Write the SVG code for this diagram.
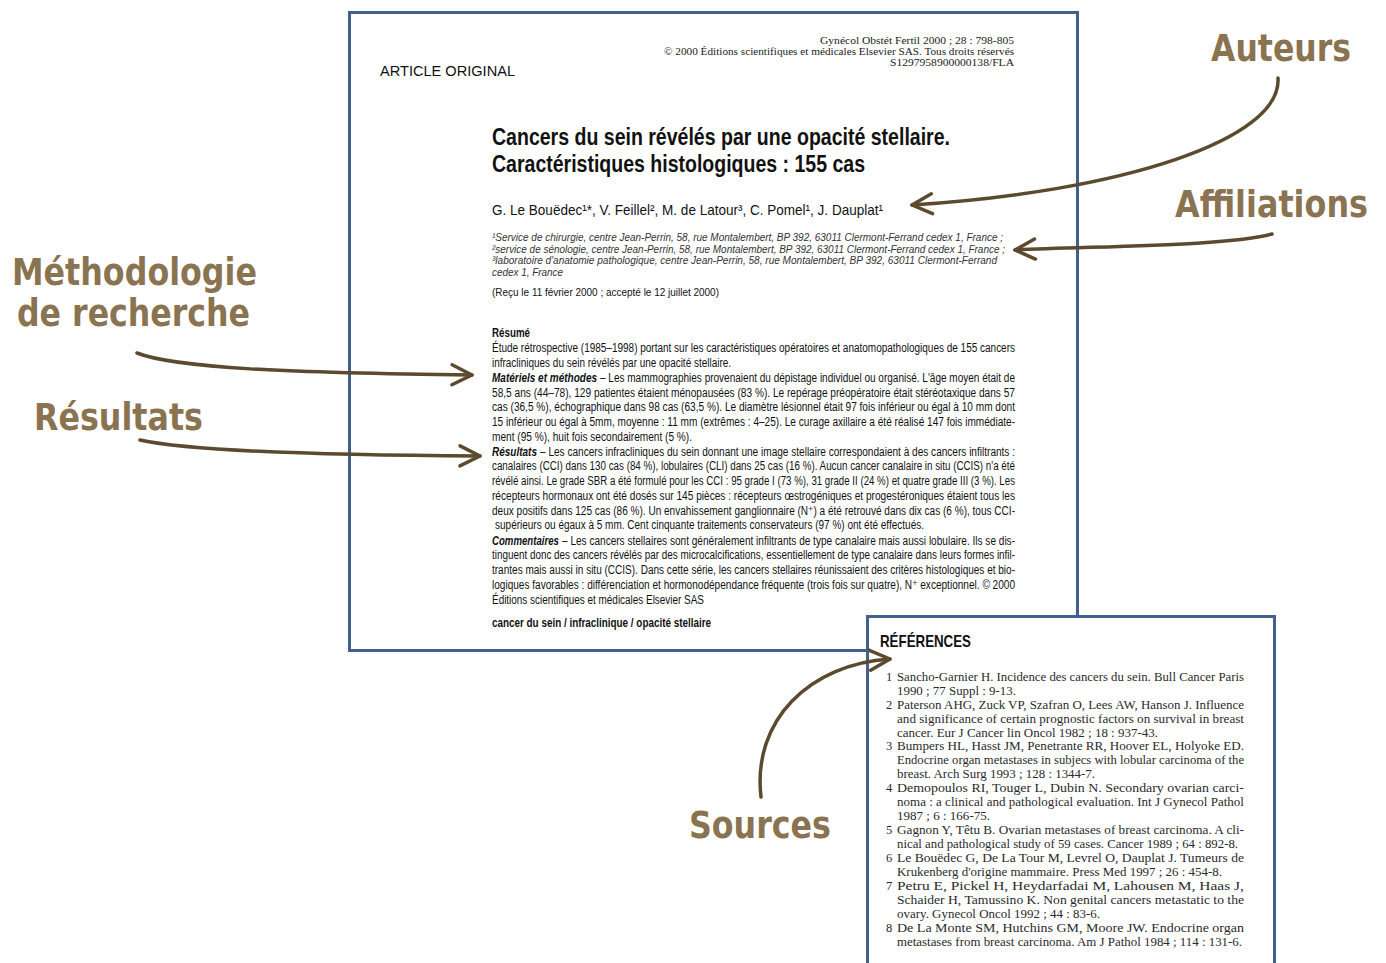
<svg xmlns="http://www.w3.org/2000/svg" width="1386" height="963" viewBox="0 0 1386 963">
<style>
.lbl{font-family:"DejaVu Sans","Liberation Sans",sans-serif;font-weight:bold;font-size:37px;fill:#8a7350}
.box{fill:#fff;stroke:#41608a;stroke-width:3}
.arr{fill:none;stroke:#5c4a2e;stroke-width:3.5;stroke-linecap:round}
.hdr{font-family:"Liberation Serif",serif;font-size:11px;fill:#222}
.sans{font-family:"Liberation Sans",Arial,sans-serif;fill:#111}
.cond{font-family:"Liberation Sans Narrow","Liberation Sans","DejaVu Sans",Arial,sans-serif;fill:#111}
.title{font-size:23px;font-weight:bold}
.auth{font-size:15px}
.aff{font-size:10.5px;font-style:italic;fill:#333}
.ab{font-size:12px}
.b{font-weight:bold}
.bi{font-weight:bold;font-style:italic}
.ref{font-family:"Liberation Serif",serif;font-size:12.5px;fill:#2a2a2a}
</style>
<defs>
<marker id="ah" markerUnits="userSpaceOnUse" markerWidth="40" markerHeight="30" viewBox="-30 -15 40 30" refX="0" refY="0" orient="auto">
<path d="M-20,-10 L0,0 L-20,10" fill="none" stroke="#5c4a2e" stroke-width="3.5" stroke-linecap="round" stroke-linejoin="round"/>
</marker>
</defs>
<rect width="1386" height="963" fill="#fff"/>

<g id="article">
<rect class="box" x="349.5" y="12.5" width="728" height="638"/>
<text class="hdr" x="820" y="44" textLength="194" lengthAdjust="spacingAndGlyphs">Gynécol Obstét Fertil 2000 ; 28 : 798-805</text>
<text class="hdr" x="664" y="55" textLength="350" lengthAdjust="spacingAndGlyphs">©  2000 Éditions scientifiques et médicales Elsevier SAS. Tous droits réservés</text>
<text class="hdr" x="890" y="66" textLength="124" lengthAdjust="spacingAndGlyphs">S1297958900000138/FLA</text>
<text class="sans" x="380" y="76" font-size="14" textLength="135" lengthAdjust="spacingAndGlyphs">ARTICLE ORIGINAL</text>
<text class="cond title" x="492" y="145" textLength="458" lengthAdjust="spacingAndGlyphs">Cancers du sein révélés par une opacité stellaire.</text>
<text class="cond title" x="492" y="172" textLength="373" lengthAdjust="spacingAndGlyphs">Caractéristiques histologiques : 155 cas</text>
<text id="authors" class="cond auth" x="492" y="215" textLength="391" lengthAdjust="spacingAndGlyphs">G. Le Bouëdec¹*, V. Feillel², M. de Latour³, C. Pomel¹, J. Dauplat¹</text>
<text class="sans aff" x="492" y="241" textLength="511" lengthAdjust="spacingAndGlyphs">¹Service de chirurgie, centre Jean-Perrin, 58, rue Montalembert, BP 392, 63011 Clermont-Ferrand cedex 1, France ;</text>
<text class="sans aff" x="492" y="253" textLength="513" lengthAdjust="spacingAndGlyphs">²service de sénologie, centre Jean-Perrin, 58, rue Montalembert, BP 392, 63011 Clermont-Ferrand cedex 1, France ;</text>
<text class="sans aff" x="492" y="264" textLength="505" lengthAdjust="spacingAndGlyphs">³laboratoire d'anatomie pathologique, centre Jean-Perrin, 58, rue Montalembert, BP 392, 63011 Clermont-Ferrand</text>
<text class="sans aff" x="492" y="276" textLength="71" lengthAdjust="spacingAndGlyphs">cedex 1, France</text>
<text class="sans" x="492" y="296" font-size="10.5" fill="#333" textLength="227" lengthAdjust="spacingAndGlyphs">(Reçu le 11 février 2000 ; accepté le 12 juillet 2000)</text>

<text class="cond ab b" x="492" y="337" textLength="38" lengthAdjust="spacingAndGlyphs">Résumé</text>
<text class="cond ab" x="492" y="352" textLength="523" lengthAdjust="spacingAndGlyphs">Étude rétrospective (1985–1998) portant sur les caractéristiques opératoires et anatomopathologiques de 155 cancers</text>
<text class="cond ab" x="492" y="367" textLength="239" lengthAdjust="spacingAndGlyphs">infracliniques du sein révélés par une opacité stellaire.</text>
<text class="cond bi" transform="translate(492,382) scale(1,1.26)" x="0" y="0" style="font-size:9.5px" textLength="105" lengthAdjust="spacingAndGlyphs">Matériels et méthodes</text>
<text class="cond ab" x="600" y="382" textLength="415" lengthAdjust="spacingAndGlyphs">– Les mammographies provenaient du dépistage individuel ou organisé. L'âge moyen était de</text>
<text class="cond ab" x="492" y="397" textLength="523" lengthAdjust="spacingAndGlyphs">58,5 ans (44–78), 129 patientes étaient ménopausées (83 %). Le repérage préopératoire était stéréotaxique dans 57</text>
<text class="cond ab" x="492" y="411" textLength="523" lengthAdjust="spacingAndGlyphs">cas (36,5 %), échographique dans 98 cas (63,5 %). Le diamètre lésionnel était 97 fois inférieur ou égal à 10 mm dont</text>
<text class="cond ab" x="492" y="426" textLength="523" lengthAdjust="spacingAndGlyphs">15 inférieur ou égal à 5mm, moyenne : 11 mm (extrêmes : 4–25). Le curage axillaire a été réalisé 147 fois immédiate-</text>
<text class="cond ab" x="492" y="441" textLength="200" lengthAdjust="spacingAndGlyphs">ment (95 %), huit fois secondairement (5 %).</text>
<text class="cond bi" transform="translate(492,456) scale(1,1.2)" x="0" y="0" style="font-size:10px" textLength="45" lengthAdjust="spacingAndGlyphs">Résultats</text>
<text class="cond ab" x="540" y="456" textLength="475" lengthAdjust="spacingAndGlyphs">– Les cancers infracliniques du sein donnant une image stellaire correspondaient à des cancers infiltrants :</text>
<text class="cond ab" x="492" y="470" textLength="523" lengthAdjust="spacingAndGlyphs">canalaires (CCI) dans 130 cas (84 %), lobulaires (CLI) dans 25 cas (16 %). Aucun cancer canalaire in situ (CCIS) n'a été</text>
<text class="cond ab" x="492" y="485" textLength="523" lengthAdjust="spacingAndGlyphs">révélé ainsi. Le grade SBR a été formulé pour les CCI : 95 grade I (73 %), 31 grade II (24 %) et quatre grade III (3 %). Les</text>
<text class="cond ab" x="492" y="500" textLength="523" lengthAdjust="spacingAndGlyphs">récepteurs hormonaux ont été dosés sur 145 pièces : récepteurs œstrogéniques et progestéroniques étaient tous les</text>
<text class="cond ab" x="492" y="515" textLength="523" lengthAdjust="spacingAndGlyphs">deux positifs dans 125 cas (86 %). Un envahissement ganglionnaire (N⁺) a été retrouvé dans dix cas (6 %), tous CCI-</text>
<text class="cond ab" x="495" y="529" textLength="429" lengthAdjust="spacingAndGlyphs">supérieurs ou égaux à 5 mm. Cent cinquante traitements conservateurs (97 %) ont été effectués.</text>
<text class="cond bi" transform="translate(492,545) scale(1,1.25)" x="0" y="0" style="font-size:9.6px" textLength="67" lengthAdjust="spacingAndGlyphs">Commentaires</text>
<text class="cond ab" x="562" y="545" textLength="453" lengthAdjust="spacingAndGlyphs">– Les cancers stellaires sont généralement infiltrants de type canalaire mais aussi lobulaire. Ils se dis-</text>
<text class="cond ab" x="492" y="559" textLength="523" lengthAdjust="spacingAndGlyphs">tinguent donc des cancers révélés par des microcalcifications, essentiellement de type canalaire dans leurs formes infil-</text>
<text class="cond ab" x="492" y="574" textLength="523" lengthAdjust="spacingAndGlyphs">trantes mais aussi in situ (CCIS). Dans cette série, les cancers stellaires réunissaient des critères histologiques et bio-</text>
<text class="cond ab" x="492" y="589" textLength="523" lengthAdjust="spacingAndGlyphs">logiques favorables : différenciation et hormonodépendance fréquente (trois fois sur quatre), N⁺ exceptionnel. ©  2000</text>
<text class="cond ab" x="492" y="604" textLength="212" lengthAdjust="spacingAndGlyphs">Éditions scientifiques et médicales Elsevier SAS</text>
<text class="cond ab b" x="492" y="627" textLength="219" lengthAdjust="spacingAndGlyphs">cancer du sein / infraclinique / opacité stellaire</text>
</g>

<g id="references">
<rect class="box" x="867.5" y="616.5" width="407" height="360"/>
<text class="cond b" x="880" y="647" font-size="17" textLength="91" lengthAdjust="spacingAndGlyphs">RÉFÉRENCES</text>
<text class="ref" x="886" y="681">1</text>
<text class="ref" x="897" y="681" textLength="347" lengthAdjust="spacingAndGlyphs">Sancho-Garnier H. Incidence des cancers du sein. Bull Cancer Paris</text>
<text class="ref" x="897" y="695" textLength="119" lengthAdjust="spacingAndGlyphs">1990 ; 77 Suppl : 9-13.</text>
<text class="ref" x="886" y="709">2</text>
<text class="ref" x="897" y="709" textLength="347" lengthAdjust="spacingAndGlyphs">Paterson AHG, Zuck VP, Szafran O, Lees AW, Hanson J. Influence</text>
<text class="ref" x="897" y="723" textLength="347" lengthAdjust="spacingAndGlyphs">and significance of certain prognostic factors on survival in breast</text>
<text class="ref" x="897" y="737" textLength="261" lengthAdjust="spacingAndGlyphs">cancer. Eur J Cancer lin Oncol 1982 ; 18 : 937-43.</text>
<text class="ref" x="886" y="750">3</text>
<text class="ref" x="897" y="750" textLength="347" lengthAdjust="spacingAndGlyphs">Bumpers HL, Hasst JM, Penetrante RR, Hoover EL, Holyoke ED.</text>
<text class="ref" x="897" y="764" textLength="347" lengthAdjust="spacingAndGlyphs">Endocrine organ metastases in subjecs with lobular carcinoma of the</text>
<text class="ref" x="897" y="778" textLength="198" lengthAdjust="spacingAndGlyphs">breast. Arch Surg 1993 ; 128 : 1344-7.</text>
<text class="ref" x="886" y="792">4</text>
<text class="ref" x="897" y="792" textLength="347" lengthAdjust="spacingAndGlyphs">Demopoulos RI, Touger L, Dubin N. Secondary ovarian carci-</text>
<text class="ref" x="897" y="806" textLength="347" lengthAdjust="spacingAndGlyphs">noma : a clinical and pathological evaluation. Int J Gynecol Pathol</text>
<text class="ref" x="897" y="820" textLength="93" lengthAdjust="spacingAndGlyphs">1987 ; 6 : 166-75.</text>
<text class="ref" x="886" y="834">5</text>
<text class="ref" x="897" y="834" textLength="347" lengthAdjust="spacingAndGlyphs">Gagnon Y, Têtu B. Ovarian metastases of breast carcinoma. A cli-</text>
<text class="ref" x="897" y="848" textLength="341" lengthAdjust="spacingAndGlyphs">nical and pathological study of 59 cases. Cancer 1989 ; 64 : 892-8.</text>
<text class="ref" x="886" y="862">6</text>
<text class="ref" x="897" y="862" textLength="347" lengthAdjust="spacingAndGlyphs">Le Bouëdec G, De La Tour M, Levrel O, Dauplat J. Tumeurs de</text>
<text class="ref" x="897" y="876" textLength="325" lengthAdjust="spacingAndGlyphs">Krukenberg d'origine mammaire. Press Med 1997 ; 26 : 454-8.</text>
<text class="ref" x="886" y="890">7</text>
<text class="ref" x="897" y="890" textLength="347" lengthAdjust="spacingAndGlyphs">Petru E, Pickel H, Heydarfadai M, Lahousen M, Haas J,</text>
<text class="ref" x="897" y="904" textLength="347" lengthAdjust="spacingAndGlyphs">Schaider H, Tamussino K. Non genital cancers metastatic to the</text>
<text class="ref" x="897" y="918" textLength="203" lengthAdjust="spacingAndGlyphs">ovary. Gynecol Oncol 1992 ; 44 : 83-6.</text>
<text class="ref" x="886" y="932">8</text>
<text class="ref" x="897" y="932" textLength="347" lengthAdjust="spacingAndGlyphs">De La Monte SM, Hutchins GM, Moore JW. Endocrine organ</text>
<text class="ref" x="897" y="946" textLength="345" lengthAdjust="spacingAndGlyphs">metastases from breast carcinoma. Am J Pathol 1984 ; 114 : 131-6.</text>
</g>

<g id="label-auteurs"><text class="lbl" x="1211" y="61" textLength="140" lengthAdjust="spacingAndGlyphs">Auteurs</text></g>
<g id="label-affiliations"><text class="lbl" transform="translate(1175,217) scale(1,1.104)" x="0" y="0" style="font-size:33.5px" textLength="193" lengthAdjust="spacingAndGlyphs">Affiliations</text></g>
<g id="label-methodologie"><text class="lbl" x="12" y="285" textLength="245" lengthAdjust="spacingAndGlyphs">Méthodologie</text><text class="lbl" x="17" y="326" textLength="233" lengthAdjust="spacingAndGlyphs">de recherche</text></g>
<g id="label-resultats"><text class="lbl" x="34" y="430" textLength="169" lengthAdjust="spacingAndGlyphs">Résultats</text></g>
<g id="label-sources"><text class="lbl" x="689" y="838" textLength="142" lengthAdjust="spacingAndGlyphs">Sources</text></g>

<g id="connectors">
<path class="arr" marker-end="url(#ah)" d="M1278,78 C1282,140 1120,192 912,205"/>
<path class="arr" marker-end="url(#ah)" d="M1272,234 C1230,246 1100,246 1015,250"/>
<path class="arr" marker-end="url(#ah)" d="M137,353 C175,368 290,373 472,375"/>
<path class="arr" marker-end="url(#ah)" d="M140,440 C185,450 305,455 480,456"/>
<path class="arr" marker-end="url(#ah)" d="M761,797 C752,720 810,664 890,659"/>
</g>
</svg>
